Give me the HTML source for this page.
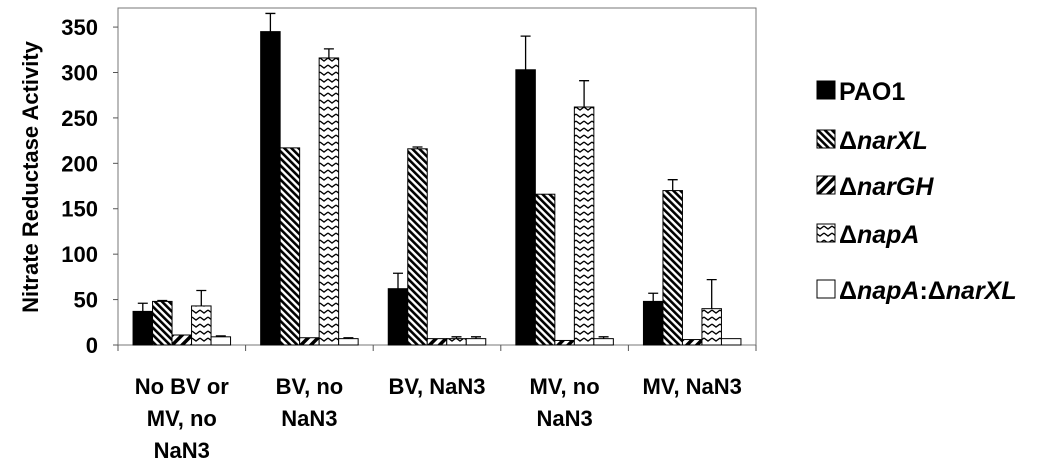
<!DOCTYPE html>
<html><head><meta charset="utf-8"><style>
body{margin:0;background:#fff;width:1050px;height:464px;overflow:hidden}
svg text{font-family:"Liberation Sans",Arial,sans-serif;font-weight:bold;fill:#000}
</style></head><body>
<svg id="chart" width="1050" height="464" xmlns="http://www.w3.org/2000/svg">
<defs>
<pattern id="pXL" width="5" height="5" patternUnits="userSpaceOnUse" patternTransform="rotate(-45)"><rect width="5" height="5" fill="#fff"/><rect width="2.6" height="5" fill="#000"/></pattern>
<pattern id="pGH" width="7" height="7" patternUnits="userSpaceOnUse" patternTransform="rotate(45)"><rect width="7" height="7" fill="#fff"/><rect width="3.5" height="7" fill="#000"/></pattern>
<pattern id="pNA" width="8" height="7" patternUnits="userSpaceOnUse"><rect width="8" height="7" fill="#fff"/><path d="M0,2 L4,5 L8,2" fill="none" stroke="#000" stroke-width="1.3"/></pattern>
</defs>
<g id="plot"></g>
</svg>
<script>
const categories=[["No BV or","MV, no","NaN3"],["BV, no","NaN3"],["BV, NaN3"],["MV, no","NaN3"],["MV, NaN3"]];
const seriesNames=["PAO1","narXL","narGH","napA","napA:narXL"];
const pao1=[37,345,62,303,48];
const narXL=[48,217,216,166,170];
const narGH=[11,8,7,5,6];
const napA=[43,316,7,262,40];
const napAnarXL=[9,7,7,7,7];
const pao1Err=[9,20,17,37,9];
const narXLErr=[1,0,2,0,12];
const narGHErr=[0,0,0,0,0];
const napAErr=[17,10,2,29,32];
const napAnarXLErr=[1,1,2,2,0];
const yTicks=[0,50,100,150,200,250,300,350];

const NS="http://www.w3.org/2000/svg";
const g=document.getElementById('plot');
const L=118,R=756,T=8,B=345,yMax=371;
const y=v=>B-v*(B-T)/yMax;
const catW=(R-L)/categories.length;
const barW=19.5;
const x=(c,s)=>L+c*catW+(catW-5*barW)/2+s*barW;
function mk(t,a){const e=document.createElementNS(NS,t);for(const k in a)e.setAttribute(k,a[k]);g.appendChild(e);return e;}
const frame=mk('rect',{x:L,y:T,width:R-L,height:B-T,fill:'none',stroke:'#777','stroke-width':1});


yTicks.forEach(v=>{
 const tk=mk('line',{x1:L-5,x2:L,y1:y(v),y2:y(v),stroke:'#555'});
 
 
 const t=mk('text',{x:L-20,y:y(v)+8,'text-anchor':'end','font-size':22});
 t.textContent=v;
 
 
});
for(let c=0;c<=categories.length;c++){
 const tk=mk('line',{x1:L+c*catW,x2:L+c*catW,y1:B,y2:B+6,stroke:'#555'});
 
 
}
const series=[pao1,narXL,narGH,napA,napAnarXL];
const errs=[pao1Err,narXLErr,narGHErr,napAErr,napAnarXLErr];
const fills=['#000','url(#pXL)','url(#pGH)','url(#pNA)','#fff'];
series.forEach((arr,s)=>arr.forEach((v,c)=>{
 const bx=x(c,s);
 const r=mk('rect',{x:bx,y:y(v),width:barW,height:B-y(v),fill:fills[s],stroke:'#000','stroke-width':1});
 
 
 const e=errs[s][c];
 if(e>0){
  const cx=bx+barW/2;
  const l=mk('path',{d:`M${cx},${y(v)} V${y(v+e)} M${cx-5},${y(v+e)} H${cx+5}`,stroke:'#000','stroke-width':1.3,fill:'none'});
  
  
 }
}));
categories.forEach((lines,c)=>{
 lines.forEach((ln,i)=>{
  const t=mk('text',{x:L+(c+0.5)*catW,y:394+i*32,'text-anchor':'middle','font-size':22});
  t.textContent=ln;
  
  
 });
});
const yt=mk('text',{x:0,y:0,'text-anchor':'middle','font-size':22,transform:'translate(38,177) rotate(-90)'});
yt.textContent='Nitrate Reductase Activity';


const legY=[97,146,192,240,296];
const legHTML=['PAO1','<tspan>Δ</tspan><tspan font-style="italic">narXL</tspan>','<tspan>Δ</tspan><tspan font-style="italic">narGH</tspan>','<tspan>Δ</tspan><tspan font-style="italic">napA</tspan>','<tspan>Δ</tspan><tspan font-style="italic">napA</tspan><tspan>:Δ</tspan><tspan font-style="italic">narXL</tspan>'];
legY.forEach((ly,i)=>{
 const sw=mk('rect',{x:817,y:ly-16,width:18,height:18,fill:fills[i],stroke:'#000','stroke-width':1});
 
 
 const t=mk('text',{x:839,y:ly+3,'font-size':25});
 t.innerHTML=legHTML[i];
 
 
});
</script>
</body></html>
